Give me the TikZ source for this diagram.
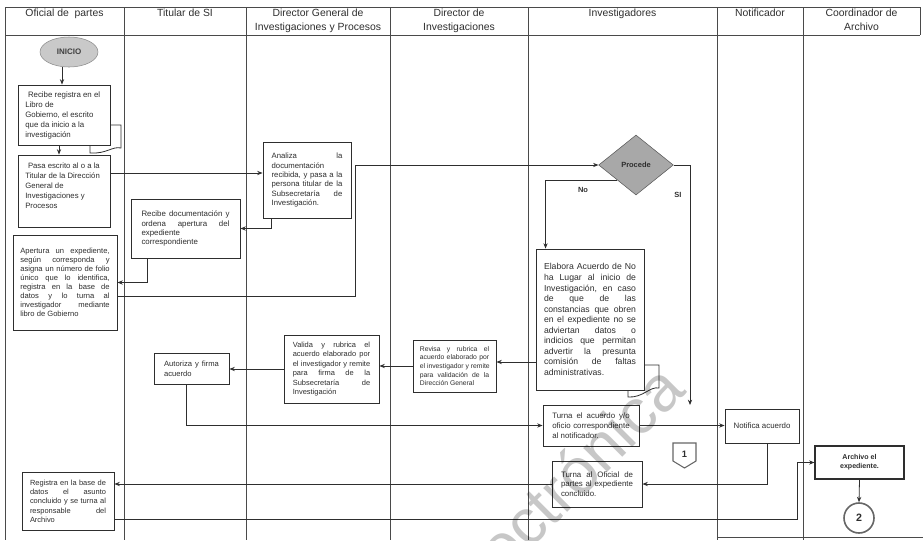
\documentclass[tikz,border=0pt]{standalone}
\usepackage{fontspec}
\setmainfont{Liberation Sans}
\usetikzlibrary{shapes.geometric,calc,arrows.meta}
% font size helper and a fully justified line
\newcommand{\fsz}[2]{\fontsize{#1}{#2}\selectfont}
\newcommand{\jl}[1]{\makebox[\hsize][s]{\spaceskip=0.278em plus 1fil\relax #1}}
\definecolor{lanegray}{HTML}{4A4A4A}
\definecolor{inkgray}{HTML}{2E2E2E}
\definecolor{startfill}{HTML}{C9C9C9}
\definecolor{decfill}{HTML}{A8A8A8}
\begin{document}
\begin{tikzpicture}[x=0.75pt,y=-0.75pt,
  lane/.style={draw=lanegray,line width=0.6pt},
  hdr/.style={anchor=north,align=center,inner sep=0pt,font=\fsz{7.8}{10.5},text=inkgray},
  box/.style={draw=inkgray,fill=white,line width=0.7pt,inner sep=0pt,text=inkgray,align=flush left},
  sz/.style 2 args={minimum width=#1*0.75pt,minimum height=#2*0.75pt},
  arr/.style={draw=inkgray,line width=0.6pt,-{Stealth[length=4pt,width=3.2pt]}},
  lbl/.style={font=\bfseries\fsz{5.6}{6.5},text=inkgray,inner sep=0pt}]
\useasboundingbox (0,0) rectangle (923,540);

% swimlane frame
\draw[lane] (5,7) -- (920,7) (5,35) -- (920,35) (920,7) -- (920,35);
\foreach \lx in {5,124,246,390,528,717,803}{\draw[lane] (\lx,7) -- (\lx,540);}
\draw[lane] (717,537) -- (923,537);

% lane titles
\node[hdr] (h1) at (64.5,9) {Oficial de\ \ partes};
\node[hdr] (h2) at (185,9) {Titular de SI};
\node[hdr] (h3) at (318,9) {Director General de\\Investigaciones y Procesos};
\node[hdr] (h4) at (459,9) {Director de\\Investigaciones};
\node[hdr] (h5) at (622.5,9) {Investigadores};
\node[hdr] (h6) at (760,9) {Notificador};
\node[hdr] (h7) at (861.5,9) {Coordinador de\\Archivo};

% document symbols peeking out behind two boxes
\draw[draw=inkgray,fill=white,line width=0.6pt] (90,125) -- (121,125) -- (121,148)
  .. controls (112,146) and (107,154) .. (90,153) -- cycle;
\draw[draw=inkgray,fill=white,line width=0.6pt] (628,365) -- (659,365) -- (659,388)
  .. controls (650,386) and (643,398) .. (628,397) -- cycle;

% start
\node[ellipse,draw=black!45,fill=startfill,minimum width=43.5pt,minimum height=22.5pt,
  inner sep=0pt,font=\bfseries\fsz{6}{7},text=black!75] (ini) at (69,52) {INICIO};

% process boxes
\node[box,sz={92}{60},text width=58pt,font=\fsz{5.9}{7.5}] (b1) at (64,115)
  {\hspace*{2pt}Recibe registra en el\\Libro de\\Gobierno, el escrito\\que da inicio a la\\investigación};
\node[box,sz={92}{72},text width=58pt,font=\fsz{5.8}{7.5}] (b2) at (64,191)
  {\hspace*{2pt}Pasa escrito al o a la\\Titular de la Dirección\\General de\\Investigaciones y\\Procesos\\\mbox{}};
\node[box,sz={109}{59},text width=66pt,font=\fsz{5.9}{6.8}] (b3) at (185.5,228.5)
  {\jl{Recibe documentación y}\\\jl{ordena apertura del}\\expediente\\correspondiente};
\node[box,sz={104}{95},text width=67pt,font=\fsz{5.7}{6.8}] (b4) at (65,282.5)
  {\jl{Apertura un expediente,}\\\jl{según corresponda y}\\\jl{asigna un número de folio}\\\jl{único que lo identifica,}\\\jl{registra en la base de}\\\jl{datos y lo turna al}\\\jl{investigador mediante}\\libro de Gobierno};
\node[box,sz={88}{76},text width=53pt,font=\fsz{5.8}{7}] (b5) at (307,180)
  {\jl{Analiza la}\\documentación\\\jl{recibida, y pasa a la}\\\jl{persona titular de la}\\\jl{Subsecretaría de}\\Investigación.};
\node[diamond,draw=black!65,fill=decfill,minimum width=56pt,minimum height=45pt,inner sep=0pt,
  font=\bfseries\fsz{5.6}{6.5},text=inkgray] (dia) at (636,165) {Procede};
\node[box,sz={108}{141},text width=69pt,font=\fsz{6.5}{7.9}] (b6) at (590,319.5)
  {\jl{Elabora Acuerdo de No}\\\jl{ha Lugar al inicio de}\\\jl{Investigación, en caso}\\\jl{de que de las}\\\jl{constancias que obren}\\\jl{en el expediente no se}\\\jl{adviertan datos o}\\\jl{indicios que permitan}\\\jl{advertir la presunta}\\\jl{comisión de faltas}\\administrativas.};
\node[box,sz={83}{52},text width=52pt,font=\fsz{5.1}{6.5}] (b7) at (454.5,366)
  {\jl{Revisa y rubrica el}\\\jl{acuerdo elaborado por}\\\jl{el investigador y remite}\\\jl{para validación de la}\\Dirección General};
\node[box,sz={95}{68},text width=58pt,font=\fsz{5.6}{7.1}] (b8) at (331.5,369)
  {\jl{Valida y rubrica el}\\\jl{acuerdo elaborado por}\\\jl{el investigador y remite}\\\jl{para firma de la}\\\jl{Subsecretaría de}\\Investigación};
\node[box,sz={75}{31},text width=41pt,font=\fsz{5.7}{7.5}] (b9) at (191.5,368.5)
  {\jl{Autoriza y firma}\\acuerdo};
\node[box,sz={96}{41},text width=58pt,font=\fsz{5.9}{7.5}] (b10) at (591,425.5)
  {\jl{Turna el acuerdo y/o}\\\jl{oficio correspondiente}\\al notificador.};
\node[box,sz={74}{34},align=center,font=\fsz{5.9}{7.5}] (b11) at (762,426)
  {Notifica acuerdo};
\node[box,sz={90}{46},text width=54pt,font=\fsz{5.9}{6.9}] (b12) at (597,484)
  {\jl{Turna al Oficial de}\\\jl{partes al expediente}\\concluido.};
\node[box,sz={92}{58},text width=57pt,font=\fsz{5.6}{7}] (b13) at (68,501)
  {\jl{Registra en la base de}\\\jl{datos el asunto}\\\jl{concluido y se turna al}\\\jl{responsable del}\\Archivo};
\node[box,sz={89}{33},align=center,line width=0.9pt,font=\bfseries\fsz{5.3}{6.6}] (b14) at (859.5,462.5)
  {Archivo el\\expediente.};

% off-page connector and end connector
\draw[draw=black!60,fill=white,line width=0.8pt] (673,443) -- (696,443) -- (696,461) -- (684.5,468) -- (673,461) -- cycle;
\node[lbl,font=\bfseries\fsz{7}{8}] (pg1) at (684.5,454) {1};
\node[circle,draw=black!60,line width=1.2pt,fill=white,minimum size=22.5pt,inner sep=0pt,
  font=\bfseries\fsz{8}{9},text=inkgray] (circ) at (859,518) {2};

% helper coordinates for bends
\coordinate (k6) at (355,0);
\coordinate (k8) at (690,405);
\coordinate (k16) at (797,0);

% flow
\draw[arr] ($(ini.south)+(-7,0)$) -- ($(b1.north)+(-2,0)$);
\draw[arr] ($(b1.south)+(-5,0)$) -- ($(b2.north)+(-5,0)$);
\draw[arr] ($(b2.east)+(0,-18)$) coordinate (p3) -- (p3 -| b5.west);
\draw[arr] ($(b5.south west)+(9,0)$) |- (b3.east);
\draw[arr] ($(b3.south west)+(17,0)$) |- (b4.east);
\draw[arr] ($(b4.east)+(0,13.5)$) -| (k6 |- dia.west) -- (dia.west);
\draw[arr] (dia.south west) -| ($(b6.north west)+(10,0)$);
\draw[arr] (dia.east) -| (k8);
\draw[arr] ($(b6.west)+(0,42.5)$) coordinate (p9) -- (p9 -| b7.east);
\draw[arr] (b7.west) -- (b7.west -| b8.east);
\draw[arr] (b8.west) -- (b8.west -| b9.east);
\draw[arr] ($(b9.south west)+(33,0)$) |- (b10.west);
\draw[arr] (b10.east) -- (b10.east -| b11.west);
\draw[arr] ($(b11.south)+(5,0)$) |- (b12.east);
\draw[arr] (b12.west) -- (b12.west -| b13.east);
\draw[arr] ($(b13.east)+(0,18)$) -| (k16 |- b14.west) -- (b14.west);
\draw[arr] (b14.south) -- (circ.north);

% decision labels
\node[lbl] (no) at (583,190) {No};
\node[lbl] (si) at (678,195) {SI};

% faint diagonal stamp across the lower middle
\node[rotate=45,anchor=base east,inner sep=0pt,text=black,text opacity=0.22,
  font=\fsz{48}{48}] (wm) at (688,392) {electrónica};
\end{tikzpicture}
\end{document}
